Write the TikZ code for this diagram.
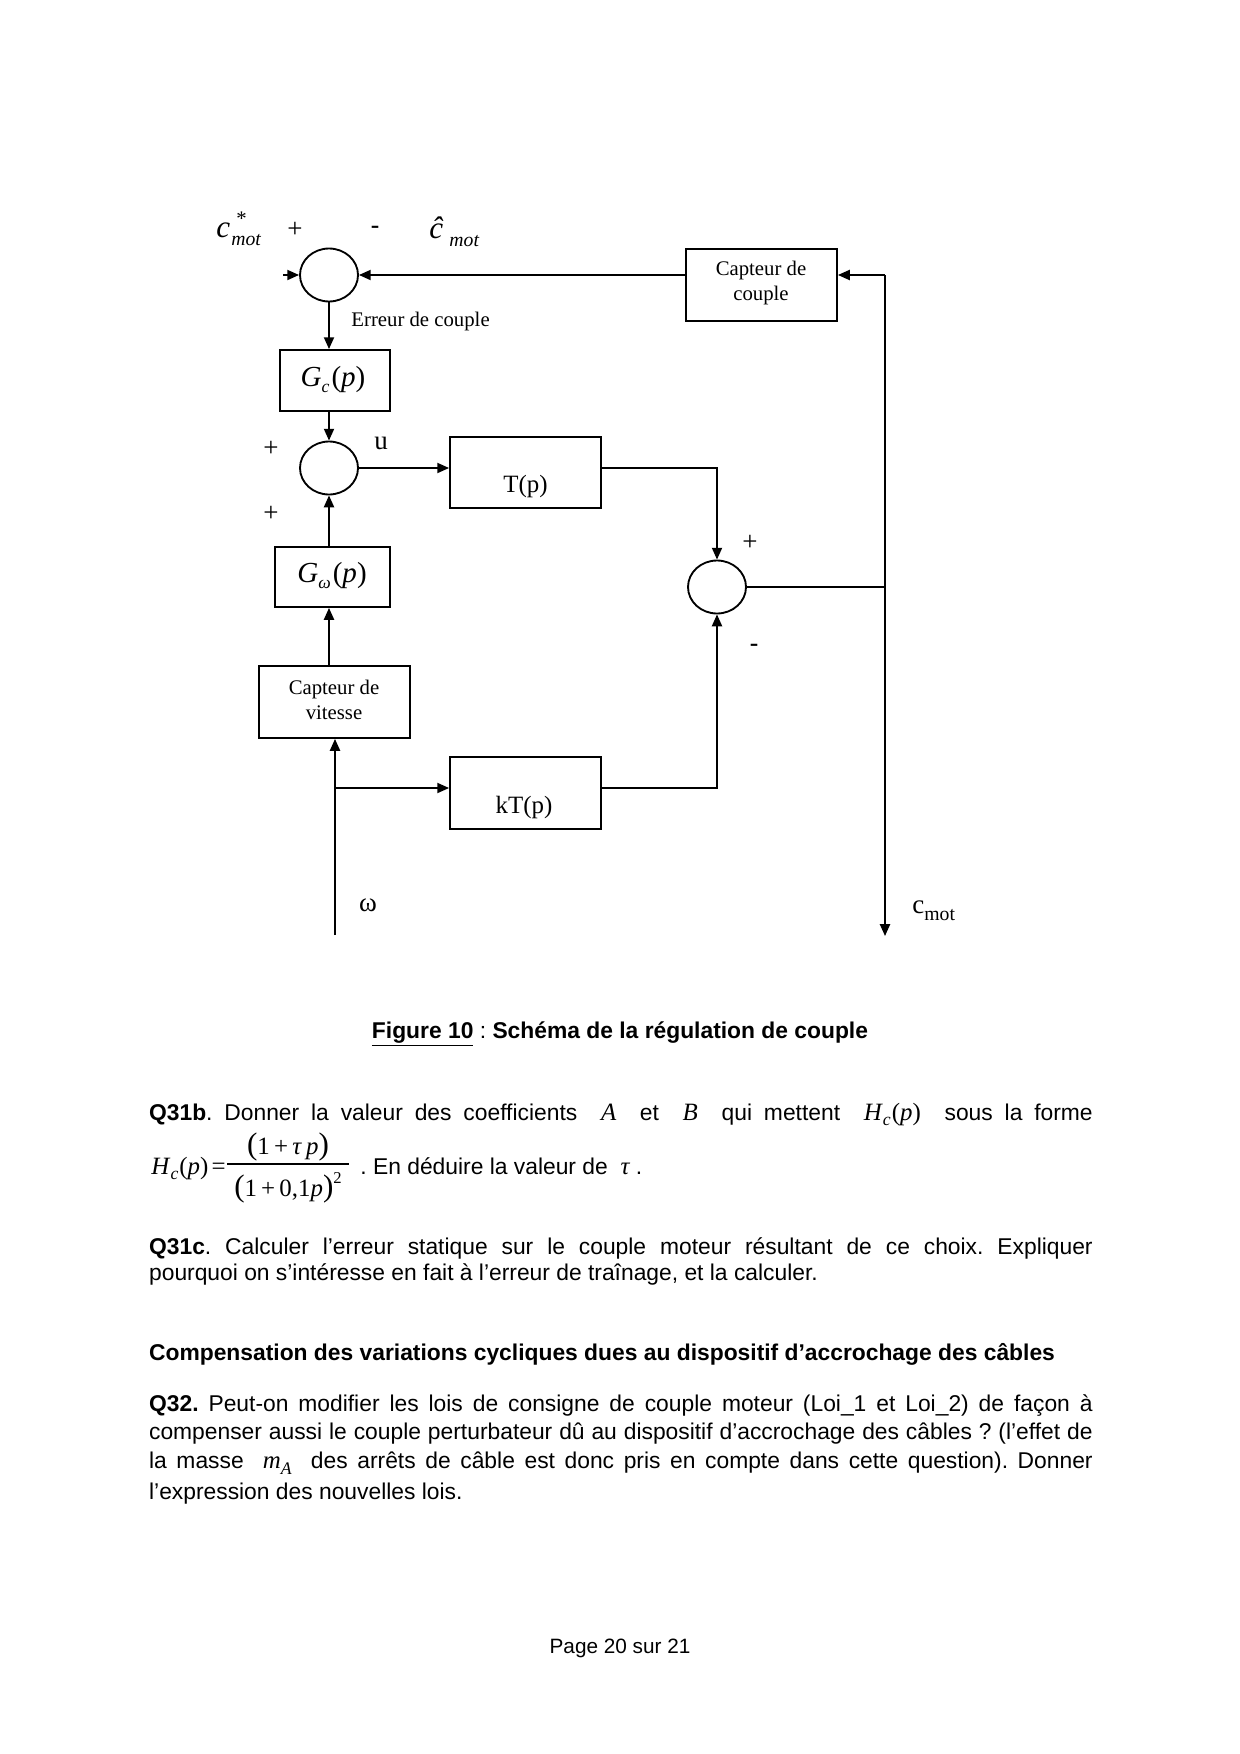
\documentclass[tikz,border=0pt]{standalone}
\usepackage{fontspec}
\setmainfont{Liberation Serif}
\newfontfamily\arial{Liberation Sans}
\usetikzlibrary{arrows.meta,shapes.geometric,calc}
\frenchspacing
\newcommand\pxu{0.169355mm}
\newcommand\fs[1]{\fontsize{#1}{#1}\selectfont}
\newcommand\lowsub[2]{\raisebox{-#1}{\fs{8.5}\itshape #2}}
\tikzset{
  wire/.style={line width=0.9pt},
  arr/.style={wire,-{Triangle[length=2mm,width=1.7mm]}},
  blk/.style={draw,line width=0.9pt,rectangle,inner sep=0pt},
  sumj/.style={draw,line width=0.9pt,ellipse,inner sep=0pt,minimum width=58*\pxu,minimum height=53*\pxu},
  lbl/.style={inner sep=0pt,font=\fontsize{10}{11.8}\selectfont,align=center},
  sgn/.style={inner sep=0pt,font=\fs{13}},
  body/.style={inner sep=0pt,anchor=base west,font=\arial\fs{11}},
}
\begin{document}
\begin{tikzpicture}[x=0.169355mm,y=-0.169355mm]
\useasboundingbox (0,0) rectangle (1240,1754);

% ---------- blocks ----------
\node[sumj] (sum1) at (329,275) {};
\node[sumj] (sum2) at (329,468) {};
\node[sumj] (sum3) at (717,587) {};
\node[blk,minimum width=151*\pxu,minimum height=72*\pxu] (capC) at (761.5,285) {};
\node[blk,minimum width=110*\pxu,minimum height=61*\pxu] (Gc) at (335,380.5) {};
\node[blk,minimum width=151*\pxu,minimum height=71*\pxu] (T) at (525.5,472.5) {};
\node[blk,minimum width=115*\pxu,minimum height=60*\pxu] (Gw) at (332.5,577) {};
\node[blk,minimum width=151*\pxu,minimum height=72*\pxu] (capV) at (334.5,702) {};
\node[blk,minimum width=151*\pxu,minimum height=72*\pxu] (kT) at (525.5,793) {};

% block texts
\node[lbl] (capCt) at (761,283) {Capteur de\\couple};
\node[lbl] (capVt) at (334,700) {Capteur de\\vitesse};
\node[inner sep=0pt,font=\fs{12}] (Tt) at (525.5,487) {T(p)};
\node[inner sep=0pt,font=\fs{12}] (kTt) at (524,808) {kT(p)};
\node[inner sep=0pt,font=\fs{14}] (Gct) at (333,380) {\textit{G}\lowsub{0.45ex}{c}\kern1pt(\textit{p})};
\node[inner sep=0pt,font=\fs{14}] (Gwt) at (332,576) {\textit{G}\lowsub{0.45ex}{ω}\kern1pt(\textit{p})};

% ---------- coordinates ----------
\coordinate (in1) at (283,275);
\coordinate (jtop) at (885,275);
\coordinate (cout) at (885,936);
\coordinate (win) at (335,935);
\coordinate (br) at (335,788);

% ---------- connectors ----------
\draw[arr] (in1) -- (sum1.west);
\draw[arr] (capC.west |- sum1.east) -- (sum1.east);
\draw[arr] (jtop) -- (capC.east |- jtop);
\draw[arr] (jtop) -- (cout);
\draw[wire] (sum3.east) -- (sum3.east -| jtop);
\draw[arr] (sum1.south) -- (sum1.south |- Gc.north);
\draw[arr] (sum2.north |- Gc.south) -- (sum2.north);
\draw[arr] (sum2.east) -- (sum2.east -| T.west);
\draw[arr] (T.east |- sum2.east) -| (sum3.north);
\draw[arr] (sum2.south |- Gw.north) -- (sum2.south);
\draw[arr] (sum2.south |- capV.north) -- (sum2.south |- Gw.south);
\draw[arr] (win) -- (win |- capV.south);
\draw[arr] (br) -- (br -| kT.west);
\draw[arr] (kT.east |- br) -| (sum3.south);

% ---------- signal labels ----------
\node[inner sep=0pt,anchor=base west] (cstar) at (216,237)
  {\fs{15}\itshape c\kern0.5pt\rlap{\raisebox{5.5pt}{\hspace{2.5pt}\fs{10}\upshape *}}\raisebox{-4.3pt}{\fs{9.5}mot}};
\node[inner sep=0pt,anchor=base west] (chat) at (429,238)
  {\fs{15}\itshape ĉ\hspace{3pt}\raisebox{-4pt}{\fs{9.5}mot}};
\node[sgn] (p1) at (295,230) {+};
\node[sgn,font=\arial\fs{13}] (m1) at (375,230) {-};
\node[inner sep=0pt,anchor=west,font=\fs{10}] (err) at (351,322) {Erreur de couple};
\node[sgn] (u) at (381,443) {u};
\node[sgn] (p2) at (271,449) {+};
\node[sgn] (p3) at (271,514) {+};
\node[sgn] (p4) at (750,543) {+};
\node[sgn,font=\arial\fs{13}] (m2) at (754,648) {-};
\node[inner sep=0pt,font=\fs{13}] (om) at (368,905) {ω};
\node[inner sep=0pt,anchor=base west] (cm) at (912,913)
  {\fs{13}c\raisebox{-3.4pt}{\fs{9.5}mot}};

% ---------- text below ----------
\node[inner sep=0pt,anchor=base,font=\arial\fs{11}] (cap) at (620,1038)
  {\underline{\textbf{Figure 10}} : \textbf{Schéma de la régulation de couple}};

\node[body] (q31b) at (148.7,1120) {\makebox[159.8mm][s]{\textbf{Q31b}. Donner la valeur des coefficients \ {\rmfamily\itshape\fs{12}A} \ et \ {\rmfamily\itshape\fs{12}B} \ qui mettent \ {\rmfamily\fs{12}\textit{H}\lowsub{0.45ex}{c}\kern0.5pt(\textit{p})} \ sous la forme}};

\node[inner sep=0pt,anchor=base west,font=\fs{12}] (hc) at (151,1174)
  {\textit{H}\lowsub{0.45ex}{c}\kern0.5pt(\textit{p})\kern1.5pt=};
\draw[line width=0.6pt] (227,1164) -- (349,1164);
\node[inner sep=0pt,anchor=base,font=\fs{12}] (num) at (288,1154)
  {{\fs{15}(}1\,+\,\textit{τ}\,\textit{p}{\fs{15})}};
\node[inner sep=0pt,anchor=base,font=\fs{12}] (den) at (288,1196)
  {{\fs{15}(}1\,+\,0,1\textit{p}{\fs{15})}\raisebox{6pt}{\fs{8}2}};
\node[body] (ded) at (360,1174) {. En déduire la valeur de \ {\rmfamily\itshape\fs{12}τ} .};

\node[body] (q31c1) at (148.7,1254) {\makebox[159.8mm][s]{\textbf{Q31c}. Calculer l’erreur statique sur le couple moteur résultant de ce choix. Expliquer}};
\node[body] (q31c2) at (148.7,1280) {pourquoi on s’intéresse en fait à l’erreur de traînage, et la calculer.};

\node[body] (comp) at (148.7,1360) {\textbf{Compensation des variations cycliques dues au dispositif d’accrochage des câbles}};

\node[body] (q32a) at (148.7,1411) {\makebox[159.8mm][s]{\textbf{Q32.} Peut-on modifier les lois de consigne de couple moteur (Loi\_1 et Loi\_2) de façon à}};
\node[body] (q32b) at (148.7,1439) {\makebox[159.8mm][s]{compenser aussi le couple perturbateur dû au dispositif d’accrochage des câbles ? (l’effet de}};
\node[body] (q32c) at (148.7,1468) {\makebox[159.8mm][s]{la masse \ {\rmfamily\fs{12}\textit{m}\lowsub{0.55ex}{A}} \ des arrêts de câble est donc pris en compte dans cette question). Donner}};
\node[body] (q32d) at (148.7,1499) {l’expression des nouvelles lois.};

\node[inner sep=0pt,anchor=base,font=\arial\fs{10}] (page) at (620,1653) {Page 20 sur 21};
\end{tikzpicture}
\end{document}
